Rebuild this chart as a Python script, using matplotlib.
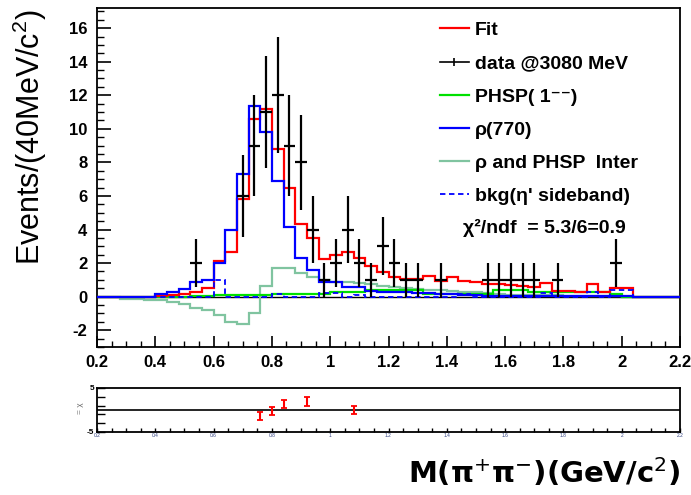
import numpy as np
import matplotlib
matplotlib.use('Agg')
import matplotlib.pyplot as plt
from matplotlib.ticker import MultipleLocator, FuncFormatter
from matplotlib.lines import Line2D

plt.rcParams['font.family'] = ['Liberation Sans', 'DejaVu Sans']
plt.rcParams['mathtext.fontset'] = 'custom'
plt.rcParams['mathtext.rm'] = 'Liberation Sans'
plt.rcParams['mathtext.it'] = 'Liberation Sans:italic'
plt.rcParams['axes.unicode_minus'] = False

# histogram binning: 40 MeV bins from 0.2 to 2.2 GeV
bin_lo = 0.20
bin_w = 0.04
n_bins = 50

# fit components, one value per bin
fit = [0, 0, 0, 0, 0, 0.05, 0.1, 0.15, 0.25, 0.5,
       2.15, 2.65, 5.8, 10.6, 11.2, 8.8, 6.45, 4.3, 3.5, 2.25,
       2.5, 2.65, 2.3, 1.85, 1.45, 1.2, 1.05, 1.05, 1.25, 0.95,
       1.2, 0.95, 0.85, 0.75, 0.75, 0.7, 0.65, 0.55, 0.8, 0.35,
       0.35, 0.25, 0.75, 0.25, 0.5, 0.5, 0, 0, 0, 0]
rho770 = [0, 0, 0, 0, 0, 0.15, 0.3, 0.45, 0.9, 1.0,
          2.0, 4.0, 7.3, 11.35, 9.8, 6.9, 4.15, 2.3, 1.6, 0.9,
          0.9, 0.6, 0.55, 0.35, 0.3, 0.3, 0.25, 0.2, 0.2, 0.15,
          0.15, 0.1, 0.1, 0.05, 0.05, 0.05, 0.05, 0.05, 0.05, 0.05,
          0.05, 0.05, 0.05, 0.05, 0.05, 0.03, 0, 0, 0, 0]
phsp = [0, 0, 0, 0, 0, 0, 0, 0, 0.05, 0.05,
        0.12, 0.12, 0.12, 0.12, 0.12, 0.18, 0.18, 0.18, 0.18, 0.18,
        0.3, 0.3, 0.3, 0.38, 0.38, 0.38, 0.38, 0.38, 0.15, 0.15,
        0.15, 0.15, 0.15, 0.15, 0.4, 0.4, 0.4, 0.3, 0.3, 0.3,
        0.3, 0.3, 0.3, 0.3, 0.15, 0, 0, 0, 0, 0]
interf = [0, 0, -0.15, -0.15, -0.22, -0.22, -0.3, -0.45, -0.7, -0.8,
          -1.1, -1.5, -1.65, -0.95, 0.65, 1.7, 1.7, 1.4, 1.2, 1.0,
          0.9, 0.85, 0.8, 0.75, 0.65, 0.6, 0.5, 0.45, 0.4, 0.4,
          0.35, 0.25, 0.25, 0.2, 0.15, 0.1, 0.1, 0.1, 0.1, 0.1,
          0.05, 0.05, 0.05, 0.05, 0.05, 0, 0, 0, 0, 0]
bkg = [0, 0, 0, 0, 0, 0, 0, 0, 0, 0,
       1.0, 0, 0, 0, 0, 0.15, 0, 0, 0, 0.2,
       0.2, 0, 0.1, 0, 0, 0, 0, 0, 0, 0,
       0, 0.15, 0, 0, 0, 0, 0, 0, 0.2, 0,
       0, 0, 0.25, 0, 0.4, 0.4, 0, 0, 0, 0]

# data @3080 MeV (bin centres, counts)
data_m = [0.54, 0.70, 0.74, 0.78, 0.82, 0.86, 0.90, 0.94, 0.98, 1.02,
          1.06, 1.10, 1.14, 1.18, 1.22, 1.26, 1.30, 1.38, 1.54, 1.58,
          1.62, 1.66, 1.70, 1.78, 1.98]
data_n = [2, 6, 9, 11, 12, 9, 8, 4, 1, 2,
          4, 2, 1, 3, 2, 1, 1, 1, 1, 1,
          1, 1, 1, 1, 2]

# residuals panel
res_m = [0.76, 0.80, 0.84, 0.92, 1.08]
res_v = [-1.3, -0.2, 1.3, 1.9, 0.0]
res_e = [0.9, 0.9, 0.95, 1.1, 1.0]

edges = bin_lo + bin_w * np.arange(n_bins + 1)

fig = plt.figure(figsize=(6.91, 4.95), dpi=100)
ax = fig.add_axes([97/691, 1-347/495, 583/691, 339/495])
ax2 = fig.add_axes([97/691, 1-432/495, 583/691, 44/495])

c_int = '#80c4a0'
ax.axhline(0, color='black', lw=1.0, zorder=1)
ax.stairs(interf, edges, color=c_int, lw=1.6, baseline=0, zorder=2)
ax.stairs(phsp, edges, color='#00e000', lw=1.6, baseline=0, zorder=3)
ax.stairs(fit, edges, color='red', lw=1.6, baseline=0, zorder=4)
ax.stairs(rho770, edges, color='blue', lw=1.6, baseline=0, zorder=5)
ax.stairs(bkg, edges, color='blue', lw=1.3, ls=(0, (3, 2)), baseline=0, zorder=5)

ax.errorbar(data_m, data_n, xerr=bin_w/2, yerr=np.sqrt(data_n), fmt='none',
            ecolor='black', elinewidth=1.6, capsize=0, zorder=6)

ax.set_xlim(0.2, 2.2)
ax.set_ylim(-3, 17.2)
ax.xaxis.set_major_locator(MultipleLocator(0.2))
ax.xaxis.set_minor_locator(MultipleLocator(0.05))
ax.yaxis.set_major_locator(MultipleLocator(2))
ax.yaxis.set_minor_locator(MultipleLocator(0.5))
ax.xaxis.set_major_formatter(FuncFormatter(lambda v, p: '%g' % round(v, 2)))
ax.tick_params(which='both', direction='in', top=False, right=False)
ax.tick_params(axis='x', which='major', length=8, width=1.2, pad=6, labelsize=12)
ax.tick_params(axis='x', which='minor', length=4.5, width=1.0)
ax.tick_params(axis='y', which='major', length=10, width=1.2, pad=7, labelsize=12)
ax.tick_params(axis='y', which='minor', length=5, width=1.0)
for lab in ax.get_xticklabels() + ax.get_yticklabels():
    lab.set_fontweight('bold')
for s in ax.spines.values():
    s.set_linewidth(1.3)

handles = [
    Line2D([], [], color='red', lw=1.6),
    Line2D([], [], color='black', lw=1.2, marker='|', markersize=6, markeredgewidth=1.2),
    Line2D([], [], color='#00e000', lw=1.6),
    Line2D([], [], color='blue', lw=1.6),
    Line2D([], [], color=c_int, lw=1.6),
    Line2D([], [], color='blue', lw=1.3, ls=(0, (3, 2))),
]
labels = ['Fit', 'data @3080 MeV', 'PHSP( 1\u207b\u207b)', '\u03c1(770)',
          '\u03c1 and PHSP  Inter', "bkg(\u03b7' sideband)"]
leg = ax.legend(handles, labels, loc='upper left', bbox_to_anchor=(0.588, 0.96),
                frameon=False, borderpad=0, borderaxespad=0, handlelength=1.5,
                handletextpad=0.3, labelspacing=0.8,
                prop={'size': 14, 'weight': 'bold'})
ax.text(0.628, 0.352, '\u03c7\u00b2/ndf  = 5.3/6=0.9', transform=ax.transAxes,
        fontsize=14, fontweight='bold', va='center', ha='left')

# residual panel
ax2.axhline(0, color='black', lw=1.2)
ax2.errorbar(res_m, res_v, yerr=res_e, fmt='none', ecolor='red',
             elinewidth=1.5, capsize=2.2, capthick=1.3)
ax2.set_xlim(0.2, 2.2)
ax2.set_ylim(-5, 5)
ax2.xaxis.set_major_locator(MultipleLocator(0.2))
ax2.xaxis.set_minor_locator(MultipleLocator(0.05))
ax2.xaxis.set_major_formatter(FuncFormatter(lambda v, p: '%g' % round(v, 2)))
ax2.set_yticks([-5, 5])
ax2.set_yticks([-3, -1, 1, 3], minor=True)
ax2.tick_params(which='both', direction='in', top=False, right=False)
ax2.tick_params(axis='x', which='both', length=3, width=1.0, pad=1, labelsize=3.5,
                labelcolor='#304080')
ax2.tick_params(axis='y', which='both', length=6, width=1.0, pad=2, labelsize=6)
for lab in ax2.get_yticklabels():
    lab.set_fontweight('bold')
for s in ax2.spines.values():
    s.set_linewidth(1.3)
fig.text(80/691, 1-408/495, '= \u03c7', rotation=90, fontsize=6, color='#707070',
         ha='center', va='center')

fig.text(0.043, 0.723, r'Events/(40MeV/c$^{2}$)', rotation=90, fontsize=22,
         ha='center', va='center')
fig.text(0.984, 0.046, 'M(\u03c0$^{+}$\u03c0$^{-}$)(GeV/c$^{2}$)', fontsize=21,
         family='DejaVu Sans', fontweight='bold', math_fontfamily='dejavusans',
         ha='right', va='center')

fig.savefig('out.png', dpi=100)
